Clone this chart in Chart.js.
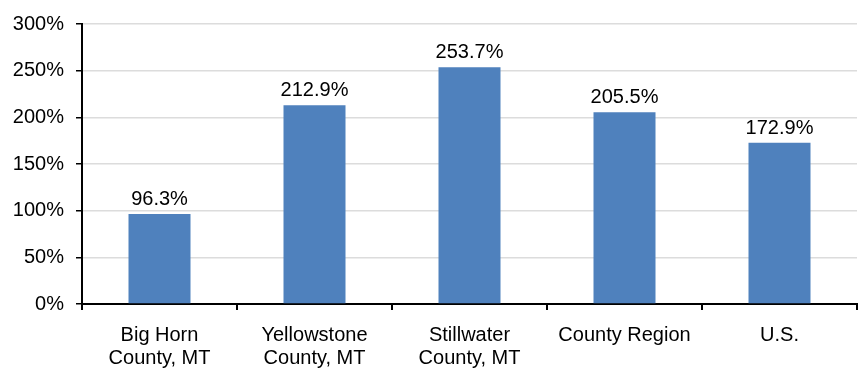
<!DOCTYPE html>
<html>
<head>
<meta charset="utf-8">
<script src="https://cdn.jsdelivr.net/npm/chart.js@4"></script>
<style>
  html, body { margin: 0; padding: 0; background: #fff; }
  #wrap { width: 859px; height: 371px; position: relative; }
</style>
</head>
<body>
<div id="wrap"><canvas id="chart"></canvas></div>
<script>
var categories = [
    ['Big Horn', 'County, MT'],
    ['Yellowstone', 'County, MT'],
    ['Stillwater', 'County, MT'],
    'County Region',
    'U.S.'
];
var values = [96.3, 212.9, 253.7, 205.5, 172.9];
var yTicks = [0, 50, 100, 150, 200, 250, 300];

var font = { family: '"Liberation Sans", Arial, sans-serif', size: 20, lineHeight: 1.15 };

// values printed above each bar, one decimal and a percent sign
var barLabels = {
    id: 'barLabels',
    afterDatasetsDraw: function (chart) {
        var ctx = chart.ctx;
        var meta = chart.getDatasetMeta(0);
        ctx.save();
        ctx.font = font.size + 'px ' + font.family;
        ctx.fillStyle = '#000';
        ctx.textAlign = 'center';
        ctx.textBaseline = 'alphabetic';
        meta.data.forEach(function (bar, i) {
            ctx.fillText(values[i].toFixed(1) + '%', bar.x, bar.y - 9);
        });
        ctx.restore();
    }
};

Chart.defaults.animation = false;
Chart.defaults.font.family = font.family;
Chart.defaults.font.size = font.size;
Chart.defaults.color = '#000';

new Chart(document.getElementById('chart'), {
    type: 'bar',
    data: {
        labels: categories,
        datasets: [{
            data: values,
            backgroundColor: '#4F81BD',
            borderWidth: 0,
            barPercentage: 0.8,
            categoryPercentage: 0.5
        }]
    },
    options: {
        responsive: true,
        maintainAspectRatio: false,
        layout: { padding: { top: 24, right: 2, left: 0, bottom: 0 } },
        plugins: { legend: { display: false }, tooltip: { enabled: false } },
        scales: {
            x: {
                grid: { offset: true, drawOnChartArea: false, tickColor: '#000', tickLength: 6, lineWidth: 2 },
                border: { color: '#000', width: 2 },
                ticks: { padding: 14, maxRotation: 0, autoSkip: false, font: font },
                afterFit: function (axis) { axis.height = 67; }
            },
            y: {
                min: 0,
                max: 300,
                afterBuildTicks: function (axis) {
                    axis.ticks = yTicks.map(function (v) { return { value: v }; });
                },
                grid: { color: '#dcdcdc', lineWidth: 1.5, tickColor: '#000', tickLength: 6 },
                border: { color: '#000', width: 2 },
                ticks: {
                    padding: 12,
                    font: font,
                    callback: function (v) { return v + '%'; }
                },
                afterFit: function (axis) { axis.width = 82; }
            }
        }
    },
    plugins: [barLabels]
});
</script>
</body>
</html>
